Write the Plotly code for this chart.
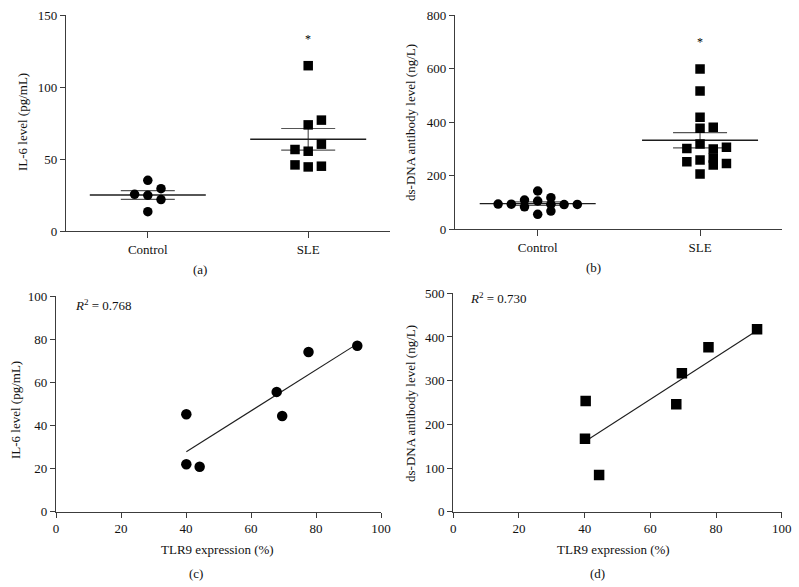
import numpy as np
import plotly.graph_objects as go

# ---------------- data ----------------
GROUPS = ["Control", "SLE"]

IL6_CONTROL = [35.2, 24.8, 13.4, 29.4, 21.8, 25.5]
IL6_SLE = [114.8, 73.7, 55.4, 44.5, 77.0, 60.3, 56.6, 45.0, 45.9]

DSDNA_CONTROL = [105.6, 56, 143, 118, 68, 84, 109, 93.3, 92.5, 93.8, 93.0, 94.0]
DSDNA_SLE = [598, 516, 377, 318, 259, 206, 418, 381, 300, 266, 240, 302, 306, 252, 246]

TLR9_C = [40.1, 40.1, 44.2, 67.9, 69.6, 77.7, 92.7]
IL6_C = [45.1, 21.9, 20.8, 55.5, 44.3, 74.0, 76.9]

TLR9_D = [40.3, 40.1, 44.4, 67.9, 69.6, 77.7, 92.5]
DSDNA_D = [253.4, 167.2, 84.0, 245.8, 316.8, 376.3, 417.6]

R2_C = "0.768"
R2_D = "0.730"

YTICKS_A = [0, 50, 100, 150]
YTICKS_B = [0, 200, 400, 600, 800]
XTICKS_CD = [0, 20, 40, 60, 80, 100]
YTICKS_C = [0, 20, 40, 60, 80, 100]
YTICKS_D = [0, 100, 200, 300, 400, 500]

# ---------------- layout helpers ----------------
W, H = 799, 587
FONT = "Liberation Serif, Times New Roman, serif"
AX = "#3c3c3c"
TXT = "#111111"


def fx(p):
    return p / W


def fy(p):
    return 1 - p / H


# panel pixel boxes: (left, right, top, bottom)
BOX = {
    "a": (66, 390, 15, 231),
    "b": (455, 781.7, 15, 229.3),
    "c": (56, 381, 296, 511.5),
    "d": (453.3, 781.7, 293.3, 511.7),
}
XR_CAT_A = [0.49, 2.51]
XR_CAT_B = [0.4905, 2.503]


def swarm(values, tol_units, step_units):
    prefs = [0, 1, -1, 2, -2, 3, -3, 4, -4, 5, -5]
    slots = []
    for i, v in enumerate(values):
        for s in prefs:
            if all(not (slots[j] == s and abs(values[j] - v) < tol_units) for j in range(i)):
                slots.append(s)
                break
    return [s * step_units for s in slots]


fig = go.Figure()


def group_panel(xa, ya, box, xr, yr, groups_vals, symbols, msize, tol_px):
    left, right, top, bottom = box
    ppu_x = (right - left) / (xr[1] - xr[0])
    ppu_y = (bottom - top) / (yr[1] - yr[0])
    for gi, (vals, sym) in enumerate(zip(groups_vals, symbols)):
        cx = gi + 1
        v = np.array(vals, dtype=float)
        m = v.mean()
        sem = v.std(ddof=1) / np.sqrt(len(v))
        hw_mean = 58 / ppu_x
        hw_sem = 27 / ppu_x
        fig.add_trace(go.Scatter(x=[cx, cx], y=[m - sem, m + sem], mode="lines",
                                 line=dict(color="#555555", width=1.2),
                                 xaxis=xa, yaxis=ya, hoverinfo="skip"))
        for yy in (m - sem, m + sem):
            fig.add_trace(go.Scatter(x=[cx - hw_sem, cx + hw_sem], y=[yy, yy], mode="lines",
                                     line=dict(color="#555555", width=1.2),
                                     xaxis=xa, yaxis=ya, hoverinfo="skip"))
        fig.add_trace(go.Scatter(x=[cx - hw_mean, cx + hw_mean], y=[m, m], mode="lines",
                                 line=dict(color="#1e1e1e", width=1.4),
                                 xaxis=xa, yaxis=ya, hoverinfo="skip"))
        offs = swarm(vals, tol_px / ppu_y, 13.2 / ppu_x)
        fig.add_trace(go.Scatter(x=[cx + o for o in offs], y=vals, mode="markers",
                                 marker=dict(symbol=sym, size=msize, color="black",
                                             line=dict(width=0)),
                                 xaxis=xa, yaxis=ya, hoverinfo="skip"))
    fig.add_annotation(x=2, y=max(groups_vals[1]), xref=xa, yref=ya, text="*",
                       showarrow=False, yshift=27, font=dict(family=FONT, size=12, color="black"))


def reg_panel(xa, ya, xs, ys, sym, msize):
    xs = np.array(xs, dtype=float)
    ys = np.array(ys, dtype=float)
    k, b = np.polyfit(xs, ys, 1)
    xl = np.array([xs.min(), xs.max()])
    fig.add_trace(go.Scatter(x=xl, y=k * xl + b, mode="lines",
                             line=dict(color="#1e1e1e", width=1.1),
                             xaxis=xa, yaxis=ya, hoverinfo="skip"))
    fig.add_trace(go.Scatter(x=xs, y=ys, mode="markers",
                             marker=dict(symbol=sym, size=msize, color="black", line=dict(width=0)),
                             xaxis=xa, yaxis=ya, hoverinfo="skip"))


group_panel("x", "y", BOX["a"], XR_CAT_A, [0, 150], [IL6_CONTROL, IL6_SLE],
            ["circle", "square"], 9.5, 7.5)
group_panel("x2", "y2", BOX["b"], XR_CAT_B, [0, 800], [DSDNA_CONTROL, DSDNA_SLE],
            ["circle", "square"], 9.5, 6.0)
reg_panel("x3", "y3", TLR9_C, IL6_C, "circle", 10.5)
reg_panel("x4", "y4", TLR9_D, DSDNA_D, "square", 10.5)


def axis(domain, rng, tickvals=None, ticktext=None, anchor=None, ticklen=5):
    d = dict(domain=domain, range=rng, showline=True, linecolor=AX, linewidth=1.2,
             ticks="outside", ticklen=ticklen, tickcolor=AX, tickwidth=1.2,
             showgrid=False, zeroline=False, automargin=False, fixedrange=True,
             tickfont=dict(family=FONT, size=13, color=TXT), anchor=anchor)
    if tickvals is not None:
        d["tickmode"] = "array"
        d["tickvals"] = tickvals
        d["ticktext"] = ticktext if ticktext is not None else [str(t) for t in tickvals]
    return d


def xdom(k):
    l, r, t, b = BOX[k]
    return [fx(l), fx(r)]


def ydom(k):
    l, r, t, b = BOX[k]
    return [fy(b), fy(t)]


layout = dict(
    width=W, height=H, margin=dict(l=0, r=0, t=0, b=0),
    paper_bgcolor="white", plot_bgcolor="white", showlegend=False,
    xaxis=axis(xdom("a"), XR_CAT_A, [1, 2], GROUPS, "y", 6),
    yaxis=axis(ydom("a"), [0, 150], YTICKS_A, None, "x"),
    xaxis2=axis(xdom("b"), XR_CAT_B, [1, 2], GROUPS, "y2", 6),
    yaxis2=axis(ydom("b"), [0, 800], YTICKS_B, None, "x2"),
    xaxis3=axis(xdom("c"), [0, 100], XTICKS_CD, None, "y3"),
    yaxis3=axis(ydom("c"), [0, 100], YTICKS_C, None, "x3"),
    xaxis4=axis(xdom("d"), [0, 100], XTICKS_CD, None, "y4"),
    yaxis4=axis(ydom("d"), [0, 500], YTICKS_D, None, "x4"),
)
fig.update_layout(**layout)


def label(x, y, text, angle=0, size=13):
    fig.add_annotation(x=fx(x), y=fy(y), xref="paper", yref="paper", text=text,
                       showarrow=False, textangle=angle, xanchor="center", yanchor="middle",
                       font=dict(family=FONT, size=size, color=TXT))


label(23, 122, "IL-6 level (pg/mL)", -90)
label(410, 123, "ds-DNA antibody level (ng/L)", -90)
label(15, 410, "IL-6 level (pg/mL)", -90)
label(410, 404, "ds-DNA antibody level (ng/L)", -90)
label(218, 549, "TLR9 expression (%)")
label(613, 549, "TLR9 expression (%)")

label(200, 269, "(a)")
label(593, 267, "(b)")
label(196, 573, "(c)")
label(597, 573, "(d)")

fig.add_annotation(x=fx(73), y=fy(305), xref="paper", yref="paper",
                   text="<i>R</i><sup>2</sup> = " + R2_C, showarrow=False,
                   xanchor="left", yanchor="middle", font=dict(family=FONT, size=13, color=TXT))
fig.add_annotation(x=fx(468), y=fy(298), xref="paper", yref="paper",
                   text="<i>R</i><sup>2</sup> = " + R2_D, showarrow=False,
                   xanchor="left", yanchor="middle", font=dict(family=FONT, size=13, color=TXT))

fig.write_html("out.html", config=dict(displayModeBar=False),
               post_script="document.body.style.margin='0px';document.body.style.overflow='hidden';")
